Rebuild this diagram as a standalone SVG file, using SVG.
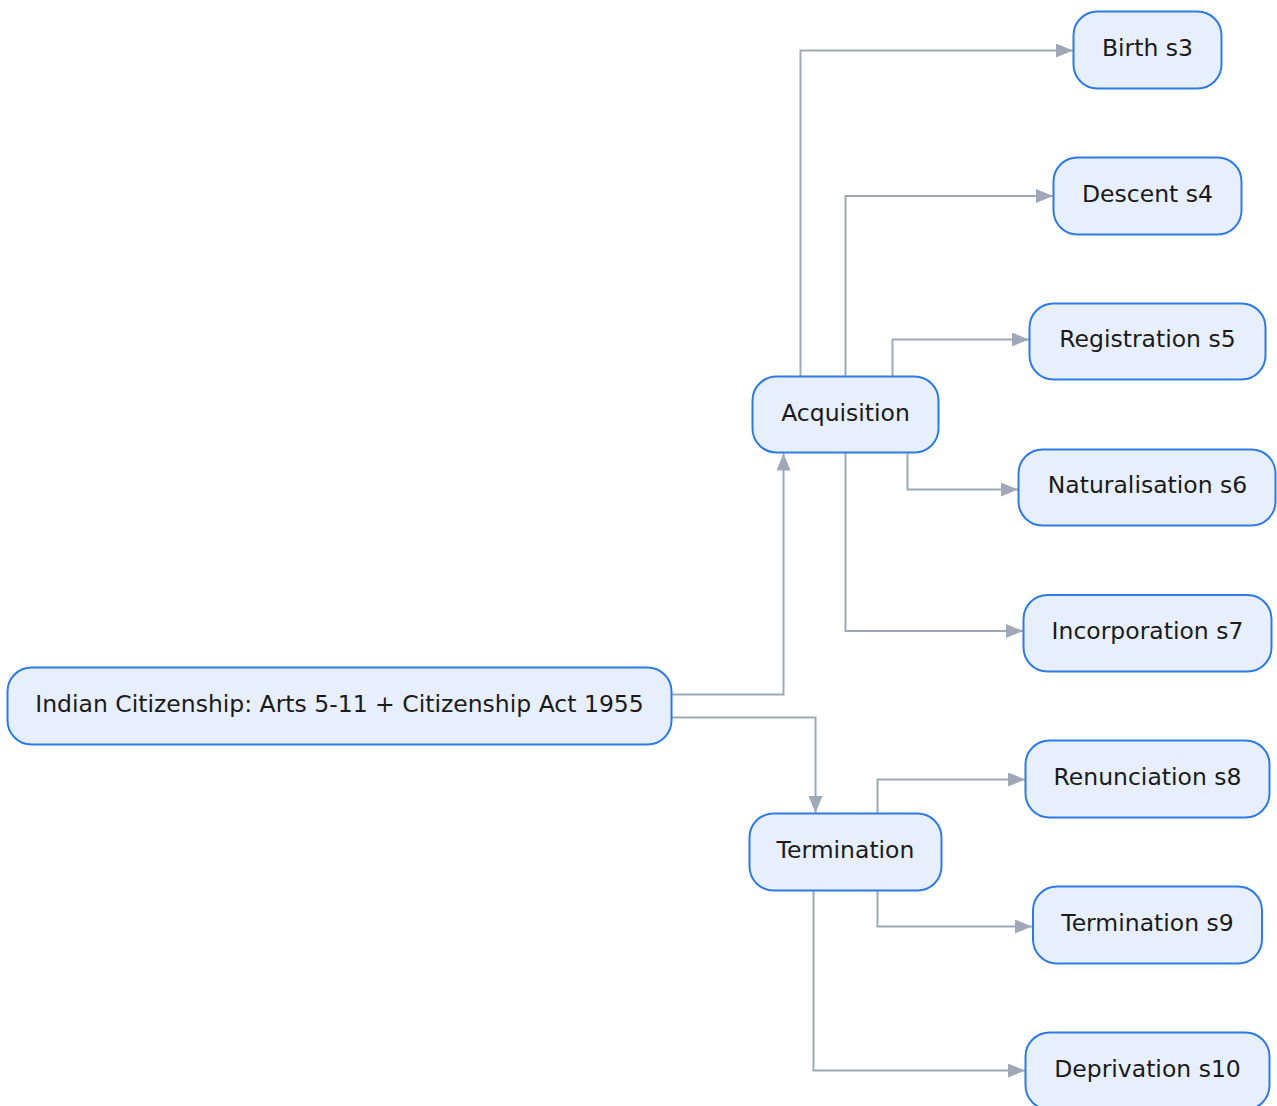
<svg xmlns="http://www.w3.org/2000/svg" width="1277" height="1106" viewBox="0 0 1277 1106">
<style>
.node rect{fill:#e8effc;stroke:#2f7be6;stroke-width:2}
.node text{font-family:"DejaVu Sans",sans-serif;font-size:23.5px;fill:#1a1a1a;text-anchor:middle;dominant-baseline:central}
.edge{fill:none;stroke:#a0a8b8;stroke-width:2;marker-end:url(#arrow)}
</style>
<defs>
<marker id="arrow" markerUnits="userSpaceOnUse" markerWidth="19" markerHeight="16" refX="17" refY="7" orient="auto">
<path d="M0,0 L17,7 L0,14 Z" fill="#a0a8b8"/>
</marker>
</defs>
<rect width="1277" height="1106" fill="#ffffff"/>
<g id="connectors">
<path class="edge" d="M672,694.5 H783.5 V453.5"/>
<path class="edge" d="M672,717.5 H815.5 V813"/>
<path class="edge" d="M800.5,376 V50.5 H1073"/>
<path class="edge" d="M845.5,376 V196 H1053"/>
<path class="edge" d="M892.5,376 V339.5 H1029"/>
<path class="edge" d="M907.5,453 V489.5 H1018"/>
<path class="edge" d="M845.5,453 V631 H1023"/>
<path class="edge" d="M877.5,813 V779.5 H1025"/>
<path class="edge" d="M877.5,890 V926.5 H1032"/>
<path class="edge" d="M813.5,890 V1070.5 H1025"/>
</g>
<g id="root" class="node"><rect x="7.5" y="667.5" width="664" height="77" rx="24"/><text x="339.5" y="704">Indian Citizenship: Arts 5-11 + Citizenship Act 1955</text></g>
<g id="acquisition" class="node"><rect x="752.5" y="376.5" width="186" height="76" rx="24"/><text x="845.5" y="412.5">Acquisition</text></g>
<g id="termination" class="node"><rect x="749.5" y="813.5" width="192" height="77" rx="24"/><text x="845.5" y="850">Termination</text></g>
<g id="birth" class="node"><rect x="1073.5" y="11.5" width="148" height="77" rx="24"/><text x="1147.5" y="48">Birth s3</text></g>
<g id="descent" class="node"><rect x="1053.5" y="157.5" width="188" height="77" rx="24"/><text x="1147.5" y="194">Descent s4</text></g>
<g id="registration" class="node"><rect x="1029.5" y="303.5" width="236" height="76" rx="24"/><text x="1147.5" y="339">Registration s5</text></g>
<g id="naturalisation" class="node"><rect x="1018.5" y="449.5" width="257" height="76" rx="24"/><text x="1147.5" y="485">Naturalisation s6</text></g>
<g id="incorporation" class="node"><rect x="1023.5" y="595" width="248" height="76.5" rx="24"/><text x="1147.5" y="631">Incorporation s7</text></g>
<g id="renunciation" class="node"><rect x="1025.5" y="740.5" width="244" height="77" rx="24"/><text x="1147.5" y="777">Renunciation s8</text></g>
<g id="termination-s9" class="node"><rect x="1033" y="886.5" width="229" height="77" rx="24"/><text x="1147.5" y="923">Termination s9</text></g>
<g id="deprivation" class="node"><rect x="1025.5" y="1032.5" width="244" height="77" rx="24"/><text x="1147.5" y="1069">Deprivation s10</text></g>
</svg>
